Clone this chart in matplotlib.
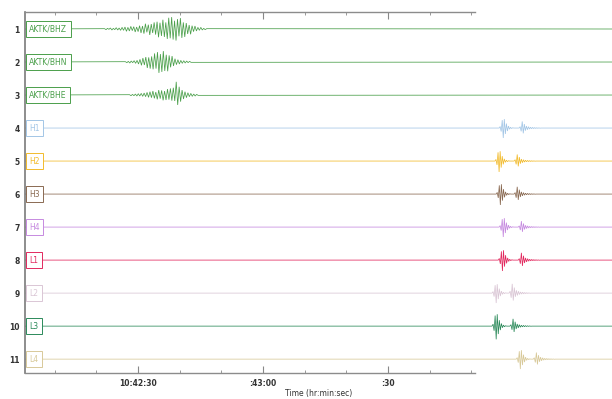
import numpy as np
import matplotlib
matplotlib.use("Agg")
import matplotlib.pyplot as plt
import matplotlib.transforms as mtransforms

# time axis: seconds after 10:42:00
tStart = 2.9
tEnd = 143.8
axisEnd = 111.0

rowNumbers = list(range(1, 12))
stationLabels = ["AKTK/BHZ", "AKTK/BHN", "AKTK/BHE",
                 "H1", "H2", "H3", "H4", "L1", "L2", "L3", "L4"]
traceColors = ["#4a9f4a", "#4a9f4a", "#4a9f4a",
               "#a3c6e6", "#f2bb2c", "#8a6a52", "#c68ae0",
               "#e2285e", "#dac6d5", "#2b8a5a", "#d8c999"]

majorTicks = [30, 60, 90]
majorLabels = ["10:42:30", ":43:00", ":30"]
minorTicks = [10, 20, 40, 50, 70, 80, 100, 110]

# broadband records (rows 1-3), sampled every 0.35 s
burstStep = 0.35
bhzStart = 22.0
bhzValues = [0.01, -0.02, 0.02, -0.01, 0.03, -0.03, 0.02, -0.02, 0.04, -0.03, 0.03, -0.04,
             0.05, -0.04, 0.06, -0.07, 0.05, -0.06, 0.08, -0.05, 0.07, -0.09, 0.06,
             -0.08, 0.1, -0.12, 0.09, -0.14, 0.16, -0.1, 0.13, -0.18, 0.15, -0.12,
             0.2, -0.17, 0.22, -0.25, 0.19, -0.21, 0.28, -0.24, 0.2, -0.3, 0.34,
             -0.28, 0.36, -0.32, 0.25, -0.35, 0.3, -0.22, 0.33, -0.27, 0.2, -0.24,
             0.18, -0.15, 0.12, -0.16, 0.1, -0.08, 0.09, -0.06, 0.05, -0.04, 0.05,
             -0.03, 0.02, -0.02, 0.01]
bhnStart = 27.0
bhnValues = [0.01, -0.02, 0.02, -0.03, 0.03, -0.02, 0.04, -0.04, 0.05, -0.06,
             0.08, -0.1, 0.12, -0.09, 0.15, -0.18, 0.14, -0.2, 0.17, -0.22,
             0.26, -0.2, 0.3, -0.33, 0.24, -0.3, 0.33, -0.27, 0.22, -0.28,
             0.2, -0.16, 0.18, -0.12, 0.1, -0.08, 0.07, -0.06, 0.05, -0.04,
             0.04, -0.03, 0.03, -0.02, 0.02, -0.01]
bheStart = 28.0
bheValues = [0.01, -0.02, 0.02, -0.02, 0.03, -0.03, 0.04, -0.03, 0.05, -0.04,
             0.06, -0.05, 0.08, -0.07, 0.1, -0.08, 0.12, -0.1, 0.09, -0.13,
             0.15, -0.11, 0.14, -0.16, 0.12, -0.15, 0.18, -0.14, 0.2, -0.17,
             0.22, -0.18, 0.4, -0.3, 0.25, -0.2, 0.15, -0.12, 0.1, -0.08,
             0.07, -0.05, 0.05, -0.04, 0.03, -0.03, 0.02, -0.01]

# array stations (rows 4-11): onset times and amplitudes of both arrivals
firstOnset = [116.7, 115.7, 116.0, 116.7, 116.5, 115.0, 115.0, 120.8]
secondOnset = [121.5, 120.3, 120.3, 121.3, 121.3, 119.1, 119.3, 124.9]
firstAmp = [0.3, 0.33, 0.33, 0.3, 0.33, 0.3, 0.4, 0.3]
secondAmp = [0.2, 0.2, 0.22, 0.18, 0.22, 0.28, 0.22, 0.2]
waveStep = 0.25
firstShape = [0, 0.15, -0.35, 0.8, -1.0, 0.9, -0.6, 0.45, -0.3, 0.2,
              -0.12, 0.08, -0.05, 0.03, 0]
secondShape = [0, 0.2, -0.5, 1.0, -0.8, 0.6, -0.4, 0.3, -0.25, 0.2, -0.15,
               0.12, -0.1, 0.1, -0.08, 0.07, -0.06, 0.05, -0.04, 0.03, -0.02, 0]

fontSize = 5.5

fig = plt.figure(figsize=(6.12, 3.99), dpi=100)
ax = fig.add_axes([25/612, 26/399, 587/612, 361/399])

traces = []
for start, vals in [(bhzStart, bhzValues), (bhnStart, bhnValues), (bheStart, bheValues)]:
    t = start + burstStep*np.arange(len(vals))
    traces.append((np.r_[tStart, t, tEnd], np.r_[0, vals, 0]))
for i in range(len(firstOnset)):
    t1 = firstOnset[i] + waveStep*np.arange(len(firstShape))
    t2 = secondOnset[i] + waveStep*np.arange(len(secondShape))
    v1 = firstAmp[i]*np.array(firstShape)
    v2 = secondAmp[i]*np.array(secondShape)
    traces.append((np.r_[tStart, t1, t2, tEnd], np.r_[0, v1, v2, 0]))

labelTrans = mtransforms.blended_transform_factory(ax.transAxes, ax.transData)
for row, (t, v), lab, col in zip(rowNumbers, traces, stationLabels, traceColors):
    ax.plot(t, row - v, color=col, lw=0.55, solid_joinstyle='miter')
    ax.text(0.007, row, lab, transform=labelTrans, ha='left', va='center',
            fontsize=5.5, color=col, zorder=5,
            bbox=dict(boxstyle='square,pad=0.45', fc='white', ec=col, lw=0.7))

ax.set_xlim(tStart, tEnd)
ax.set_ylim(11.42, 0.485)
ax.set_yticks(rowNumbers)
ax.set_yticklabels([str(r) for r in rowNumbers], fontsize=fontSize,
                   fontweight='bold', color='#333333')
ax.tick_params(axis='y', length=0, pad=4)

ax.set_xticks(majorTicks)
ax.set_xticklabels(majorLabels, fontsize=fontSize, fontweight='bold', color='#333333')
ax.set_xticks(minorTicks, minor=True)
ax.tick_params(axis='x', which='both', direction='in', top=True, bottom=True,
               color='#888888', pad=4)
ax.tick_params(axis='x', which='major', length=5, width=0.8)
ax.tick_params(axis='x', which='minor', length=2.5, width=0.6)
ax.set_xlabel("Time (hr:min:sec)", fontsize=fontSize, color='#333333', labelpad=1)

ax.spines['right'].set_visible(False)
for side in ['top', 'bottom']:
    ax.spines[side].set_bounds(tStart, axisEnd)
    ax.spines[side].set_color('#8c8c8c')
    ax.spines[side].set_linewidth(1.0)
ax.spines['left'].set_color('#7a7a7a')
ax.spines['left'].set_linewidth(1.2)

fig.savefig("out.png", dpi=100)
